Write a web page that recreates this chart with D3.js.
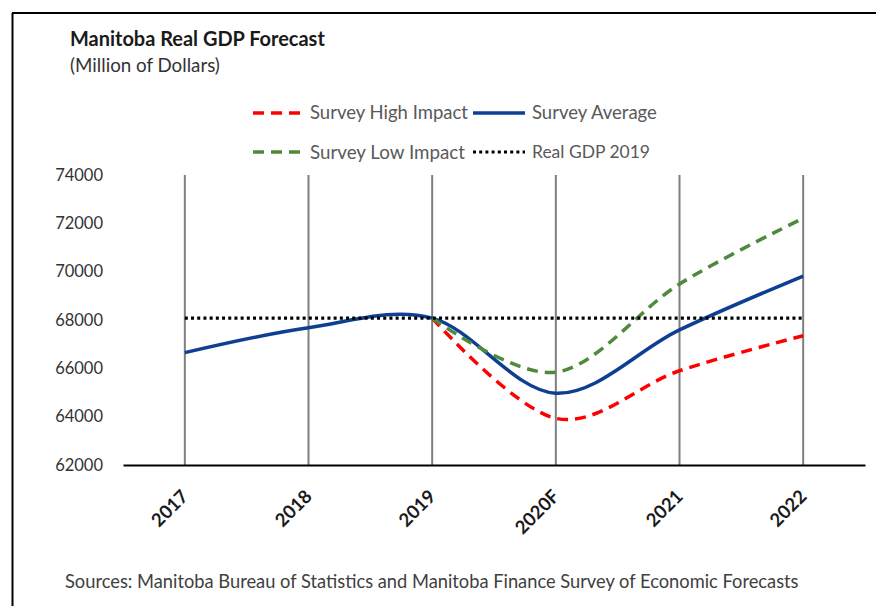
<!DOCTYPE html>
<html>
<head>
<meta charset="utf-8">
<script src="https://cdn.jsdelivr.net/npm/d3@7"></script>
<style>
  html, body { margin: 0; padding: 0; background: #fff; }
  svg { display: block; font-family: Lato, "Open Sans", sans-serif; }
</style>
</head>
<body>
<svg id="chart" width="876" height="606"></svg>
<script>
// ---- data ----
const categories = ["2017", "2018", "2019", "2020F", "2021", "2022"];
const surveyHigh = [null, null, 68080, 63930, 65900, 67350];
const surveyAverage = [66650, 67680, 68080, 64970, 67590, 69820];
const surveyLow = [null, null, 68080, 65840, 69490, 72210];
const realGDP2019 = [68080, 68080, 68080, 68080, 68080, 68080];
const yTicks = [62000, 64000, 66000, 68000, 70000, 72000, 74000];
const seriesNames = ["Survey High Impact", "Survey Average", "Survey Low Impact", "Real GDP 2019"];

const svg = d3.select("#chart");

// frame (top and left border)
svg.append("path").attr("d", "M12,13H876M12.5,13V606")
  .attr("stroke", "#000").attr("stroke-width", 2).attr("fill", "none");

const x = d3.scaleBand().domain(categories).range([123, 865]).paddingInner(0).paddingOuter(0);
const xc = c => x(c) + x.bandwidth() / 2;
const y = d3.scaleLinear().domain([62000, 74000]).range([465, 175]);

function fit(sel, target) {
  const node = sel.node();
  const fs = parseFloat(sel.attr("font-size"));
  const w = node.getComputedTextLength();
  sel.attr("font-size", (fs * target / w).toFixed(2));
  return sel;
}

// gridlines at category centres
svg.append("g").selectAll("line").data(categories).join("line")
  .attr("x1", d => xc(d)).attr("x2", d => xc(d))
  .attr("y1", y(74000)).attr("y2", y(62000))
  .attr("stroke", "#7f7f7f").attr("stroke-width", 2);

// x axis
const xAxis = svg.append("g").attr("transform", `translate(0,${y(62000)})`)
  .call(d3.axisBottom(x).tickSize(0).tickSizeOuter(0));
xAxis.select(".domain").attr("stroke", "#000").attr("stroke-width", 2);
xAxis.selectAll(".tick text")
  .attr("font-family", "Lato, sans-serif").attr("font-weight", "bold").attr("font-size", 18.5)
  .attr("fill", "#1a1a1a")
  .attr("text-anchor", "end").attr("dy", "0.35em").attr("y", 0)
  .attr("transform", "translate(0,28) rotate(-45)");

// y axis labels
const yAxis = svg.append("g").attr("transform", "translate(103,0)")
  .call(d3.axisLeft(y).tickValues(yTicks).tickSize(0).tickPadding(0).tickFormat(d3.format("d")));
yAxis.select(".domain").remove();
yAxis.selectAll(".tick text")
  .attr("font-family", "Lato, sans-serif").attr("font-size", 16.5).attr("fill", "#333");

// lines
const line = d3.line()
  .x(d => xc(d.c)).y(d => y(d.v))
  .curve(d3.curveCatmullRom.alpha(0));
const straight = d3.line().x(d => xc(d.c)).y(d => y(d.v));
const toPts = arr => categories.map((c, i) => ({ c, v: arr[i] })).filter(d => d.v != null);

const styles = [
  { data: surveyHigh, color: "#ff0000", dash: "11,7", w: 3.5, smooth: true },
  { data: surveyAverage, color: "#0f3f93", dash: null, w: 3.5, smooth: true },
  { data: surveyLow, color: "#4f8a3c", dash: "11,7", w: 3.5, smooth: true },
  { data: realGDP2019, color: "#000000", dash: "3,3.2", w: 3.2, smooth: false }
];
styles.forEach(s => {
  const pts = toPts(s.data);
  svg.append("path").datum(pts)
    .attr("d", s.smooth ? line(pts) : straight(pts))
    .attr("fill", "none").attr("stroke", s.color).attr("stroke-width", s.w)
    .attr("stroke-dasharray", s.dash);
});

// title
fit(svg.append("text").attr("x", 70).attr("y", 46).attr("font-weight", "bold")
  .attr("font-size", 18).attr("fill", "#1a1a1a").text("Manitoba Real GDP Forecast"), 255);
fit(svg.append("text").attr("x", 70).attr("y", 72)
  .attr("font-size", 15).attr("fill", "#333").text("(Million of Dollars)"), 150);

// legend
const legendPos = [
  { lx: 253, ly: 113, tx: 310, tw: 158 },
  { lx: 473, ly: 113, tx: 532, tw: 125 },
  { lx: 253, ly: 152, tx: 310, tw: 155 },
  { lx: 473, ly: 152, tx: 532, tw: 118 }
];
seriesNames.forEach((name, i) => {
  const s = styles[i], p = legendPos[i];
  svg.append("line").attr("x1", p.lx).attr("x2", p.lx + (i % 2 ? 52 : 49))
    .attr("y1", p.ly).attr("y2", p.ly)
    .attr("stroke", s.color).attr("stroke-width", s.w).attr("stroke-dasharray", s.dash);
  fit(svg.append("text").attr("x", p.tx).attr("y", p.ly).attr("dy", "0.35em")
    .attr("font-size", 16).attr("fill", "#595959").text(name), p.tw);
});

// source
fit(svg.append("text").attr("x", 65).attr("y", 588)
  .attr("font-size", 16).attr("fill", "#404040")
  .text("Sources: Manitoba Bureau of Statistics and Manitoba Finance Survey of Economic Forecasts"), 734);
</script>
</body>
</html>
